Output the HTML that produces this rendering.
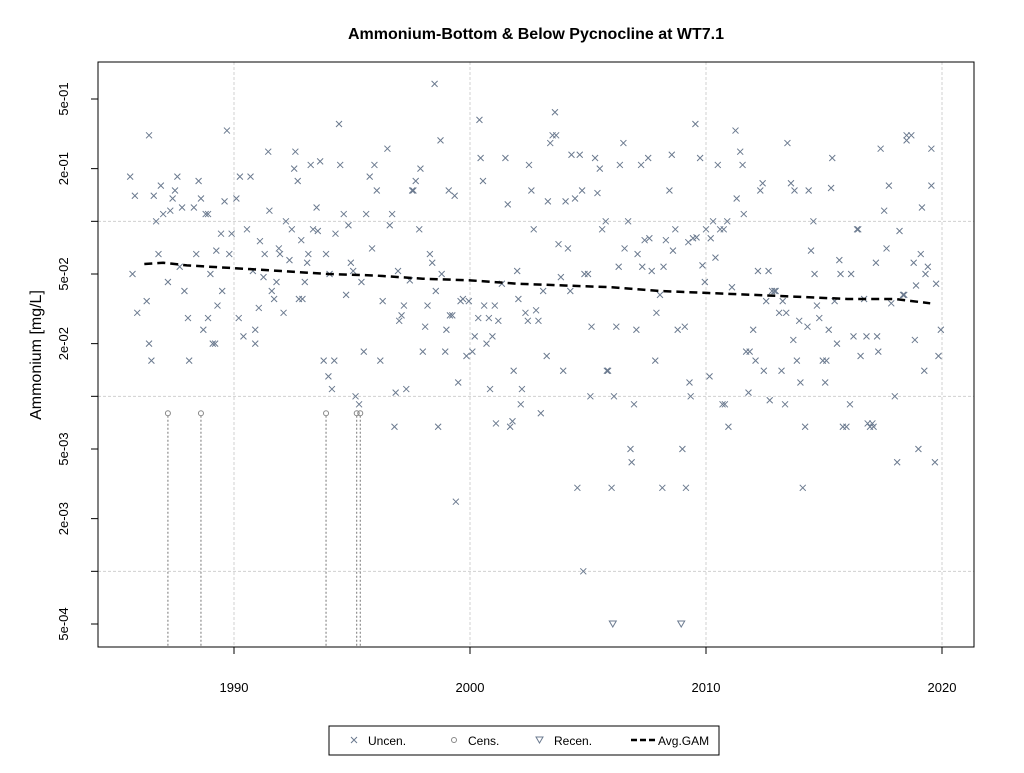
<!DOCTYPE html>
<html><head><meta charset="utf-8"><style>
body{margin:0;background:#fff;width:1024px;height:768px;overflow:hidden}
svg text{font-family:"Liberation Sans",Arial,sans-serif}
</style></head><body>
<svg id="chart" width="1024" height="768" xmlns="http://www.w3.org/2000/svg">
<text x="536" y="39" text-anchor="middle" font-size="16" font-weight="bold">Ammonium-Bottom &amp; Below Pycnocline at WT7.1</text>
<text transform="translate(41,355) rotate(-90)" text-anchor="middle" font-size="16">Ammonium [mg/L]</text>
<g id="grid"></g>
<g id="axes"></g>
<g id="marks"></g>
<rect x="98" y="62" width="876" height="585" fill="none" stroke="#000" stroke-width="1"/>
<g>
<rect x="329" y="726" width="390" height="29" fill="#fff" stroke="#000"/>
<g><path d="M351,737l6,6M357,737l-6,6" stroke="#6b7a8f" fill="none"/><text x="368" y="745" font-size="12">Uncen.</text></g>
<g><circle cx="454" cy="740" r="2.5" fill="none" stroke="#888"/><text x="468" y="745" font-size="12">Cens.</text></g>
<g><path d="M536,737h7l-3.5,6z" fill="none" stroke="#6b7a8f"/><text x="554" y="745" font-size="12">Recen.</text></g>
<g><path d="M631,740h24" stroke="#000" stroke-width="2.5" stroke-dasharray="6,3"/><text x="658" y="745" font-size="12">Avg.GAM</text></g>
</g>
</svg>
<script>
const xTicks=[1990,2000,2010,2020];
const yTickVals=[0.5,0.2,0.05,0.02,0.005,0.002,0.0005];
const yTickLabels=["5e-01","2e-01","5e-02","2e-02","5e-03","2e-03","5e-04"];
const yGridVals=[0.1,0.01,0.001];
const uncenYears=[1985.6,1985.8,1985.7,1985.9,1986.3,1986.4,1986.4,1986.5,1986.6,1986.7,1986.8,1986.9,1987.0,1987.2,1987.3,1987.4,1987.5,1987.6,1987.7,1987.8,1987.9,1988.05,1988.1,1988.3,1988.4,1988.5,1988.6,1988.7,1988.8,1988.9,1988.9,1989.0,1989.1,1989.2,1989.25,1989.3,1989.45,1989.5,1989.6,1989.7,1989.8,1989.9,1990.1,1990.2,1990.25,1990.4,1990.55,1990.7,1990.8,1990.9,1990.9,1991.05,1991.1,1991.25,1991.3,1991.45,1991.5,1991.6,1991.7,1991.8,1991.9,1991.95,1992.1,1992.2,1992.35,1992.45,1992.55,1992.6,1992.7,1992.75,1992.85,1992.9,1993.0,1993.1,1993.15,1993.25,1993.35,1993.5,1993.55,1993.65,1993.8,1993.9,1994.0,1994.05,1994.15,1994.25,1994.3,1994.45,1994.5,1994.65,1994.75,1994.85,1994.95,1995.05,1995.15,1995.3,1995.4,1995.5,1995.6,1995.75,1995.85,1995.95,1996.05,1996.2,1996.3,1996.5,1996.6,1996.7,1996.8,1996.85,1996.95,1997.0,1997.1,1997.2,1997.3,1997.45,1997.55,1997.6,1997.7,1997.85,1997.9,1998.0,1998.1,1998.2,1998.3,1998.4,1998.5,1998.55,1998.65,1998.75,1998.8,1998.95,1999.0,1999.1,1999.15,1999.25,1999.35,1999.4,1999.5,1999.6,1999.7,1999.85,1999.95,2000.1,2000.2,2000.35,2000.4,2000.45,2000.55,2000.6,2000.7,2000.8,2000.85,2000.95,2001.05,2001.1,2001.2,2001.35,2001.5,2001.6,2001.7,2001.8,2001.85,2002.0,2002.05,2002.15,2002.2,2002.35,2002.45,2002.5,2002.6,2002.7,2002.8,2002.9,2003.0,2003.1,2003.25,2003.3,2003.4,2003.5,2003.6,2003.65,2003.75,2003.85,2003.95,2004.05,2004.15,2004.25,2004.3,2004.45,2004.55,2004.65,2004.75,2004.8,2004.85,2005.0,2005.1,2005.15,2005.3,2005.4,2005.5,2005.6,2005.75,2005.8,2005.85,2006.0,2006.1,2006.2,2006.3,2006.35,2006.5,2006.55,2006.7,2006.8,2006.85,2006.95,2007.05,2007.1,2007.25,2007.3,2007.4,2007.55,2007.6,2007.7,2007.85,2007.9,2008.05,2008.15,2008.2,2008.3,2008.45,2008.55,2008.6,2008.7,2008.8,2009.0,2009.1,2009.15,2009.25,2009.3,2009.35,2009.45,2009.55,2009.6,2009.75,2009.85,2009.95,2010.0,2010.15,2010.2,2010.3,2010.4,2010.5,2010.6,2010.7,2010.75,2010.8,2010.9,2010.95,2011.1,2011.25,2011.3,2011.45,2011.55,2011.6,2011.7,2011.8,2011.85,2012.0,2012.1,2012.2,2012.3,2012.4,2012.45,2012.55,2012.65,2012.7,2012.8,2012.9,2012.95,2013.1,2013.2,2013.25,2013.35,2013.4,2013.45,2013.6,2013.7,2013.75,2013.85,2013.95,2014.0,2014.1,2014.2,2014.3,2014.35,2014.45,2014.55,2014.6,2014.7,2014.8,2014.95,2015.05,2015.1,2015.2,2015.3,2015.35,2015.45,2015.55,2015.65,2015.7,2015.8,2015.95,2016.1,2016.15,2016.25,2016.4,2016.45,2016.55,2016.7,2016.8,2016.85,2016.95,2017.05,2017.1,2017.2,2017.25,2017.3,2017.4,2017.55,2017.65,2017.75,2017.85,2018.0,2018.1,2018.2,2018.35,2018.4,2018.5,2018.5,2018.7,2018.8,2018.85,2018.9,2019.0,2019.1,2019.15,2019.25,2019.3,2019.4,2019.55,2019.55,2019.7,2019.75,2019.85,2019.95];
const uncenValues=[0.18,0.14,0.05,0.03,0.035,0.31,0.02,0.016,0.14,0.1,0.065,0.16,0.11,0.045,0.115,0.135,0.15,0.18,0.055,0.12,0.04,0.028,0.016,0.12,0.065,0.17,0.135,0.024,0.11,0.11,0.028,0.05,0.02,0.02,0.068,0.033,0.085,0.04,0.13,0.33,0.065,0.085,0.135,0.028,0.18,0.022,0.09,0.18,0.052,0.024,0.02,0.032,0.077,0.048,0.065,0.25,0.115,0.04,0.036,0.045,0.07,0.065,0.03,0.1,0.06,0.09,0.2,0.25,0.17,0.036,0.078,0.036,0.045,0.058,0.065,0.21,0.09,0.12,0.088,0.22,0.016,0.065,0.013,0.05,0.011,0.016,0.085,0.36,0.21,0.11,0.038,0.095,0.058,0.052,0.01,0.009,0.045,0.018,0.11,0.18,0.07,0.21,0.15,0.016,0.035,0.26,0.095,0.11,0.0067,0.0105,0.052,0.027,0.029,0.033,0.011,0.046,0.15,0.15,0.17,0.09,0.2,0.018,0.025,0.033,0.065,0.058,0.61,0.04,0.0067,0.29,0.05,0.018,0.024,0.15,0.029,0.029,0.14,0.0025,0.012,0.035,0.036,0.017,0.035,0.018,0.022,0.028,0.38,0.23,0.17,0.033,0.02,0.028,0.011,0.022,0.033,0.007,0.027,0.044,0.23,0.125,0.0067,0.0072,0.014,0.052,0.036,0.009,0.011,0.03,0.027,0.21,0.15,0.09,0.031,0.027,0.008,0.04,0.017,0.13,0.28,0.31,0.42,0.31,0.074,0.048,0.014,0.13,0.07,0.04,0.24,0.135,0.003,0.24,0.15,0.001,0.05,0.05,0.01,0.025,0.23,0.145,0.2,0.09,0.1,0.014,0.014,0.003,0.01,0.025,0.055,0.21,0.28,0.07,0.1,0.005,0.0042,0.009,0.024,0.065,0.21,0.055,0.078,0.23,0.08,0.052,0.016,0.03,0.038,0.003,0.055,0.078,0.15,0.24,0.068,0.09,0.024,0.005,0.025,0.003,0.076,0.012,0.01,0.08,0.36,0.081,0.23,0.056,0.045,0.09,0.013,0.08,0.1,0.062,0.21,0.09,0.009,0.09,0.009,0.1,0.0067,0.042,0.33,0.135,0.25,0.21,0.11,0.018,0.0105,0.018,0.024,0.016,0.052,0.15,0.165,0.014,0.035,0.052,0.0095,0.04,0.04,0.04,0.03,0.014,0.035,0.009,0.03,0.28,0.165,0.021,0.15,0.016,0.027,0.012,0.003,0.0067,0.025,0.15,0.068,0.1,0.05,0.033,0.028,0.016,0.012,0.016,0.024,0.155,0.23,0.035,0.02,0.06,0.05,0.0067,0.0067,0.009,0.05,0.022,0.09,0.09,0.017,0.036,0.022,0.007,0.0067,0.007,0.0067,0.058,0.022,0.018,0.26,0.115,0.07,0.16,0.034,0.01,0.0042,0.088,0.038,0.038,0.29,0.31,0.31,0.058,0.021,0.043,0.005,0.065,0.12,0.014,0.05,0.055,0.16,0.26,0.0042,0.044,0.017,0.024];
const censYears=[1987.2,1988.6,1993.9,1995.2,1995.35];
const censValues=[0.008,0.008,0.008,0.008,0.008];
const recenYears=[2006.05,2008.95];
const recenValues=[0.0005,0.0005];
const gamYears=[1986.2,1987,1988,1990,1992,1994,1996,1998,2000,2002,2004,2006,2008,2010,2012,2014,2016,2018,2019.5];
const gamValues=[0.057,0.058,0.056,0.054,0.052,0.05,0.049,0.047,0.046,0.044,0.043,0.042,0.040,0.039,0.038,0.037,0.036,0.036,0.034];

const NS="http://www.w3.org/2000/svg";
const L=98,R=974,T=62,B=647;
function xs(yr){return 234+(yr-1990)*23.6;}
function ys(v){return 99+175*Math.log10(0.5/v);}
function mk(tag,attrs,parent){const e=document.createElementNS(NS,tag);for(const k in attrs)e.setAttribute(k,attrs[k]);parent.appendChild(e);return e;}
const grid=document.getElementById('grid'),axes=document.getElementById('axes'),marks=document.getElementById('marks');
xTicks.forEach(t=>{
  const g=mk('line',{x1:xs(t),x2:xs(t),y1:T,y2:B,stroke:'#d0d0d0','stroke-dasharray':'3,2'},grid);
  
  
  const tk=mk('line',{x1:xs(t),x2:xs(t),y1:B,y2:B+7,stroke:'#000'},axes);
  
  
  const tx=mk('text',{x:xs(t),y:692,'text-anchor':'middle','font-size':'13'},axes);tx.textContent=t;
  
  
});
yGridVals.forEach(v=>{
  const g=mk('line',{x1:L,x2:R,y1:ys(v),y2:ys(v),stroke:'#d0d0d0','stroke-dasharray':'3,2'},grid);
  
  
  const tk=mk('line',{x1:L-7,x2:L,y1:ys(v),y2:ys(v),stroke:'#000'},axes);
  
  
});
yTickVals.forEach((v,i)=>{
  const tk=mk('line',{x1:L-7,x2:L,y1:ys(v),y2:ys(v),stroke:'#000'},axes);
  
  
  const tx=mk('text',{transform:`translate(68,${ys(v)}) rotate(-90)`,'text-anchor':'middle','font-size':'13'},axes);tx.textContent=yTickLabels[i];
  
  
});
uncenYears.forEach((yr,i)=>{
  const x=xs(yr),y=ys(uncenValues[i]);
  const p=mk('path',{d:`M${x-3},${y-3}l6,6M${x+3},${y-3}l-6,6`,stroke:'#6b7a8f','stroke-width':'1',fill:'none'},marks);
  
  
});
censYears.forEach((yr,i)=>{
  const x=xs(yr),y=ys(censValues[i]);
  const l=mk('line',{x1:x,x2:x,y1:y+2.5,y2:B,stroke:'#777','stroke-dasharray':'2,2'},marks);
  
  
  const c=mk('circle',{cx:x,cy:y,r:2.5,fill:'none',stroke:'#888'},marks);
  
  
});
recenYears.forEach((yr,i)=>{
  const x=xs(yr),y=ys(recenValues[i]);
  const p=mk('path',{d:`M${x-3.5},${y-3}h7l-3.5,6z`,fill:'none',stroke:'#6b7a8f'},marks);
  
  
});
const gp=mk('path',{d:gamYears.map((yr,i)=>(i?'L':'M')+xs(yr)+','+ys(gamValues[i])).join(''),fill:'none',stroke:'#000','stroke-width':'2.5','stroke-dasharray':'8,5'},marks);


</script>
</body></html>
